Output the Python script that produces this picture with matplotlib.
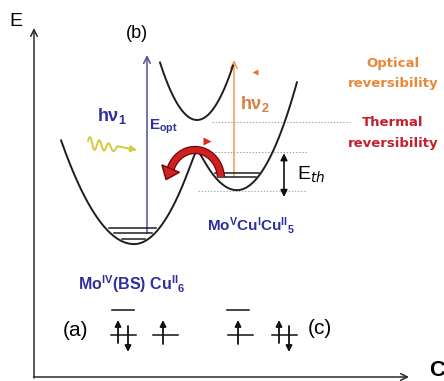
import numpy as np
import matplotlib
matplotlib.use("Agg")
import matplotlib.pyplot as plt
from matplotlib.patches import Polygon
import matplotlib.patheffects as pe

plt.rcParams['mathtext.default'] = 'regular'

# ---------------- diagram quantities (x to the right, y grows downward) -------------
# ground-state double well: left well = Mo(IV)/Cu(II), right well = Mo(V)/Cu(I)
well_centres = [134, 237]
well_floors = [244, 190]
well_curv_outer = [0.0195, 0.030]    # arms pointing away from the barrier
well_curv_inner = [0.025, 0.0277]    # flanks that meet at the barrier
well_coupling = 6
ground_span = [61, 297]

# excited-state curve
excited_centre = 197
excited_floor = 120
excited_curv = 0.042
excited_span = [160, 233]

# vibrational levels drawn in each well
left_levels = [228, 233, 239]
right_levels = [172.7, 176.7]

# vertical transitions
opt_x, opt_top = 147, 55
hv2_x, hv2_top = 234, 60
eth_x = 284

# thermal hop over the barrier: elliptical arc (centre, radii, sweep in degrees)
hop_centre = (195, 179)
hop_radii = (26, 29)
hop_sweep = (4, 155)
hop_head = (12, 19)          # head length, head width

# orbital occupation schemes
orbital_centres = [123, 165, 240, 284]
orbital_occupation = ['ud', 'u', 'u', 'ud']
empty_orbital_centres = [123, 238]
orbital_y = 335
empty_orbital_y = 309.5

BLUE = '#2e2e9e'
ORANGE = '#e8893a'
RED = '#c41f2c'

fig = plt.figure(figsize=(4.44, 3.81), dpi=100)
ax = fig.add_axes([0, 0, 1, 1])
ax.set_xlim(0, 444)
ax.set_ylim(381, 0)
ax.axis('off')


def half_well(x, c, floor, k_left, k_right):
    k = np.where(x < c, k_left, k_right)
    return floor - k * (x - c) ** 2


# ---- axes of the energy diagram ----
axis_kw = dict(arrowstyle='->', lw=1.1, color='#2a2a2a', mutation_scale=12,
               shrinkA=0, shrinkB=0)
ax.annotate('', xy=(34, 28), xytext=(34, 378), arrowprops=axis_kw)
ax.annotate('', xy=(409, 377), xytext=(33.5, 377), arrowprops=axis_kw)
ax.text(9, 22, 'E', fontsize=14, family='Liberation Sans', va='center', ha='left')
ax.text(429, 371, 'C', fontsize=16, family='Liberation Sans', fontweight='bold',
        va='center', ha='left')
ax.text(137, 33, '(b)', fontsize=13, family='Liberation Sans', va='center', ha='center')

# ---- ground-state double well ----
xg = np.linspace(ground_span[0], ground_span[1], 800)
yl = half_well(xg, well_centres[0], well_floors[0], well_curv_outer[0], well_curv_inner[0])
yr = half_well(xg, well_centres[1], well_floors[1], well_curv_inner[1], well_curv_outer[1])
yg = (yl + yr) / 2 + np.sqrt(((yl - yr) / 2) ** 2 + well_coupling ** 2)
ax.plot(xg, yg, color='#1e1e1e', lw=1.4, solid_capstyle='round', zorder=3)

# ---- excited-state curve ----
xe = np.linspace(excited_span[0], excited_span[1], 300)
ye = excited_floor - excited_curv * (xe - excited_centre) ** 2
ax.plot(xe, ye, color='#1e1e1e', lw=1.4, zorder=3)

# ---- vibrational levels ----
for lev in left_levels:
    d = well_floors[0] - lev
    x0 = well_centres[0] - np.sqrt(d / well_curv_outer[0])
    x1 = well_centres[0] + np.sqrt(d / well_curv_inner[0])
    ax.plot([x0 + 4, x1 - 3], [lev, lev], color='#1e1e1e', lw=1.1, zorder=3)
for lev in right_levels:
    d = well_floors[1] - lev
    x0 = well_centres[1] - np.sqrt(d / well_curv_inner[1])
    x1 = well_centres[1] + np.sqrt(d / well_curv_outer[1])
    ax.plot([x0 + 3, x1 - 2], [lev, lev], color='#1e1e1e', lw=1.1, zorder=3)

# ---- dotted reference energies ----
dot = (0, (1.2, 1.6))
ax.plot([212, 350], [excited_floor + 2, excited_floor + 2], ls=dot, lw=0.8, color='#c79090')
hump_y = yg[(xg > 185) & (xg < 215)].min()
ax.plot([193, 307], [hump_y + 1, hump_y + 1], ls=dot, lw=0.8, color='#a89c9c')
ax.plot([198, 307], [well_floors[1] + 1, well_floors[1] + 1], ls=dot, lw=0.8, color='#a8a8a8')

# ---- optical transition (blue) ----
ax.annotate('', xy=(opt_x, opt_top), xytext=(opt_x, left_levels[1]),
            arrowprops=dict(arrowstyle='->', lw=1.1, color='#4f4f9c', mutation_scale=12,
                            shrinkA=0, shrinkB=0), zorder=2)
ax.text(97, 116, 'hν$_1$', fontsize=13, family='Liberation Sans', fontweight='bold',
        color=BLUE, va='center', ha='left')
ax.text(149, 127, 'E$_{opt}$', fontsize=11, family='Liberation Sans', fontweight='bold',
        color=BLUE, va='center', ha='left')

# wavy photon arrow
t = np.linspace(0, 1, 300)
sx = 88 + 30 * t
sy = 143 + 6 * t - 6.5 * (1 - 0.6 * t) * np.sin(2 * np.pi * 3.2 * t + 0.3)
ax.plot(sx, sy, color='#d4cc3c', lw=1.4, solid_capstyle='round')
ax.annotate('', xy=(137, 150), xytext=(sx[-1], sy[-1]),
            arrowprops=dict(arrowstyle='-|>', lw=1.4, color='#d4cc3c', mutation_scale=9,
                            shrinkA=0, shrinkB=0))

# ---- back transition (orange) ----
ax.annotate('', xy=(hv2_x, hv2_top), xytext=(hv2_x, right_levels[1]),
            arrowprops=dict(arrowstyle='->', lw=1.1, color='#f29a55', mutation_scale=12,
                            shrinkA=0, shrinkB=0), zorder=2)
ax.text(240, 104, 'hν$_2$', fontsize=13, family='Liberation Sans', fontweight='bold',
        color='#d97c3c', va='center', ha='left')
ax.plot([255], [72], marker='<', ms=5, color='#e8742c', mec='none')
ax.plot([207], [141], marker='>', ms=5.5, color='#e02626', mec='none', zorder=5)

# ---- thermal relaxation over the barrier (red curved arrow) ----
theta = np.radians(np.linspace(hop_sweep[0], hop_sweep[1], 120))
hop_x = hop_centre[0] + hop_radii[0] * np.cos(theta)
hop_y = hop_centre[1] - hop_radii[1] * np.sin(theta)
tx, ty = -hop_radii[0] * np.sin(theta[-1]), -hop_radii[1] * np.cos(theta[-1])
ux, uy = tx / np.hypot(tx, ty), ty / np.hypot(tx, ty)
base = (hop_x[-1] + 2 * ux, hop_y[-1] + 2 * uy)
hop_x = np.append(hop_x, base[0] + 1 * ux)
hop_y = np.append(hop_y, base[1] + 1 * uy)
ax.plot(hop_x, hop_y, color='#d02020', lw=4.2, solid_capstyle='butt', zorder=6,
        path_effects=[pe.withStroke(linewidth=6.0, foreground='#700808')])
hl, hw = hop_head
tip = (base[0] + hl * ux, base[1] + hl * uy)
head = Polygon([tip,
                (base[0] - hw / 2 * uy, base[1] + hw / 2 * ux),
                (base[0] + hw / 2 * uy, base[1] - hw / 2 * ux)],
               closed=True, facecolor='#d02020', edgecolor='#700808', lw=1.0, zorder=7)
ax.add_patch(head)

# ---- thermal barrier height ----
ax.annotate('', xy=(eth_x, hump_y + 2), xytext=(eth_x, well_floors[1] + 7),
            arrowprops=dict(arrowstyle='<|-|>', lw=1.2, color='#111111', mutation_scale=10,
                            shrinkA=0, shrinkB=0))
ax.text(297, 174, r'E$_{\mathit{th}}$', fontsize=14, family='Liberation Sans',
        va='center', ha='left')

# ---- reversibility labels ----
for y, s, c in [(63, 'Optical', ORANGE), (83, 'reversibility', ORANGE),
                (123, 'Thermal', RED), (143, 'reversibility', RED)]:
    ax.text(393, y, s, fontsize=9.5, fontweight='bold', color=c, va='center', ha='center')

# ---- state labels ----
ax.text(207, 226, 'Mo$^{V}$Cu$^{I}$Cu$^{II}$$_{5}$', fontsize=11, family='Liberation Sans',
        fontweight='bold', color=BLUE, va='center', ha='left')
ax.text(78, 284, 'Mo$^{IV}$(BS) Cu$^{II}$$_{6}$', fontsize=11.5, family='Liberation Sans',
        fontweight='bold', color=BLUE, va='center', ha='left')

# ---- orbital occupation schemes ----
ax.text(75, 330, '(a)', fontsize=15, family='Liberation Sans', va='center', ha='center')
ax.text(320, 329, '(c)', fontsize=15, family='Liberation Sans', va='center', ha='center')
spin_kw = dict(arrowstyle='-|>', lw=1.3, color='#111111', mutation_scale=9,
               shrinkA=0, shrinkB=0)
for xc, occ in zip(orbital_centres, orbital_occupation):
    ax.plot([xc - 12.5, xc + 12.5], [orbital_y, orbital_y], color='#111111', lw=1.1)
    if occ == 'ud':
        ax.annotate('', xy=(xc - 5, orbital_y - 15), xytext=(xc - 5, orbital_y + 8), arrowprops=spin_kw)
        ax.annotate('', xy=(xc + 5, orbital_y + 17), xytext=(xc + 5, orbital_y - 9), arrowprops=spin_kw)
    else:
        ax.annotate('', xy=(xc - 2, orbital_y - 15), xytext=(xc - 2, orbital_y + 9), arrowprops=spin_kw)
for xc in empty_orbital_centres:
    ax.plot([xc - 11, xc + 11], [empty_orbital_y, empty_orbital_y], color='#111111', lw=1.1)

fig.savefig('out.png', dpi=100, facecolor='white')
